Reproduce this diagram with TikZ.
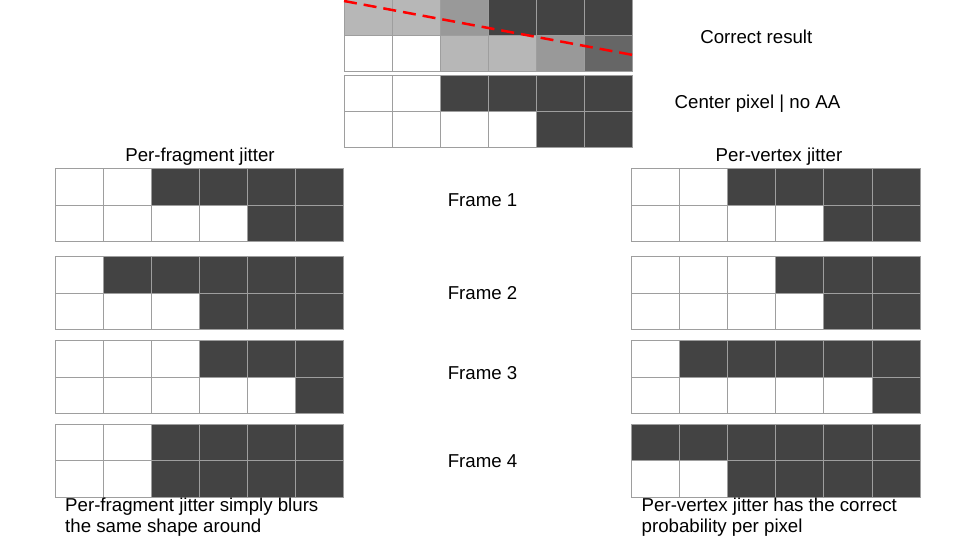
\documentclass[tikz,border=0pt]{standalone}
\usepackage{fontspec}
\setmainfont{Liberation Sans}
\definecolor{cL}{HTML}{B7B7B7}
\definecolor{cM}{HTML}{999999}
\definecolor{cD}{HTML}{434343}
\definecolor{cN}{HTML}{666666}
\definecolor{cW}{HTML}{FFFFFF}
\definecolor{gridc}{HTML}{9E9E9E}
\definecolor{redline}{HTML}{FF0000}
\newcommand\pixrow[5]{%
  \foreach \c [count=\i from 0] in {#5} {%
    \path[cell, fill=\c] ({#1+\i*#3},#2) rectangle ++(#3,#4);}}
\tikzset{
  cell/.style={draw=gridc, line width=1pt},
  lbl/.style={font=\fontsize{18.67}{21}\selectfont, inner sep=0pt, text=black},
  edgeline/.style={draw=redline, line width=2.5pt, dash pattern=on 13pt off 7pt}
}
\begin{document}
\begin{tikzpicture}[x=1pt,y=-1pt]
\useasboundingbox[fill=white] (0,0) rectangle (960,540);

% top: correct result
\pixrow{344}{0}{48}{36}{cL,cL,cM,cD,cD,cD}
\pixrow{344}{36}{48}{36}{cW,cW,cL,cL,cM,cN}
\draw[edgeline] (344,1) -- (633,55);
% center pixel
\pixrow{344}{76}{48}{36}{cW,cW,cD,cD,cD,cD}
\pixrow{344}{112}{48}{36}{cW,cW,cW,cW,cD,cD}

% per-fragment jitter (left)
\pixrow{55}{168.5}{48}{36.5}{cW,cW,cD,cD,cD,cD}
\pixrow{55}{205}{48}{36.5}{cW,cW,cW,cW,cD,cD}
\pixrow{55}{256.5}{48}{36.5}{cW,cD,cD,cD,cD,cD}
\pixrow{55}{293}{48}{36.5}{cW,cW,cW,cD,cD,cD}
\pixrow{55}{340.7}{48}{36.5}{cW,cW,cW,cD,cD,cD}
\pixrow{55}{377.2}{48}{36.5}{cW,cW,cW,cW,cW,cD}
\pixrow{55}{424.3}{48}{36.5}{cW,cW,cD,cD,cD,cD}
\pixrow{55}{460.8}{48}{36.5}{cW,cW,cD,cD,cD,cD}

% per-vertex jitter (right)
\pixrow{631}{168.5}{48.2}{36.5}{cW,cW,cD,cD,cD,cD}
\pixrow{631}{205}{48.2}{36.5}{cW,cW,cW,cW,cD,cD}
\pixrow{631}{256.5}{48.2}{36.5}{cW,cW,cW,cD,cD,cD}
\pixrow{631}{293}{48.2}{36.5}{cW,cW,cW,cW,cD,cD}
\pixrow{631}{340.7}{48.2}{36.5}{cW,cD,cD,cD,cD,cD}
\pixrow{631}{377.2}{48.2}{36.5}{cW,cW,cW,cW,cW,cD}
\pixrow{631}{424.3}{48.2}{36.5}{cD,cD,cD,cD,cD,cD}
\pixrow{631}{460.8}{48.2}{36.5}{cW,cW,cD,cD,cD,cD}

% labels
\node[lbl, anchor=base] (correct) at (756.3,43.3) {Correct result};
\node[lbl, anchor=base] (centerpx) at (757.5,109) {Center pixel | no AA};
\node[lbl, anchor=base] (pfrag) at (200,161.7) {Per-fragment jitter};
\node[lbl, anchor=base] (pvert) at (779,162) {Per-vertex jitter};
\node[lbl, anchor=base] (f1) at (482.5,206) {Frame 1};
\node[lbl, anchor=base] (f2) at (482.5,299) {Frame 2};
\node[lbl, anchor=base] (f3) at (482.5,379) {Frame 3};
\node[lbl, anchor=base] (f4) at (482.5,467.3) {Frame 4};
\node[lbl, anchor=base west] (noteLa) at (65,511.7) {Per-fragment jitter simply blurs};
\node[lbl, anchor=base west] (noteLb) at (65,532.5) {the same shape around};
\node[lbl, anchor=base west] (noteRa) at (641.5,511.7) {Per-vertex jitter has the correct};
\node[lbl, anchor=base west] (noteRb) at (641.5,532.5) {probability per pixel};
\end{tikzpicture}
\end{document}
